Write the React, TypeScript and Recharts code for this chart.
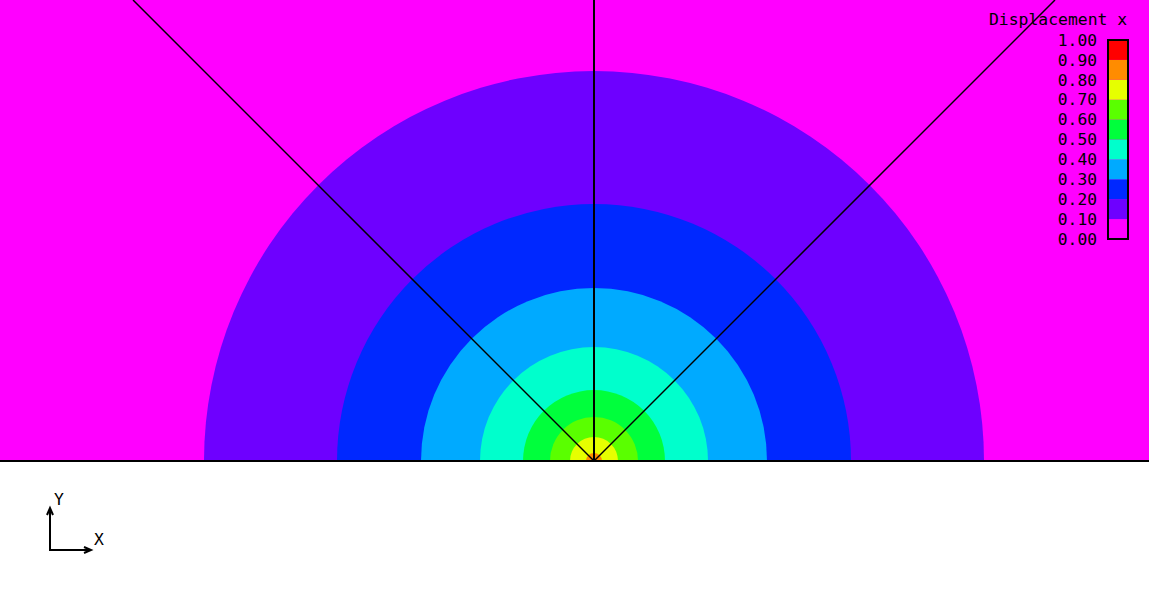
import React from 'react';
import {
  ComposedChart, XAxis, YAxis, ReferenceArea, ReferenceLine,
  PieChart, Pie, Cell, BarChart, Bar,
} from 'recharts';

// ---- data ----
// colours of the displacement bands: [0.0-0.1], [0.1-0.2], ... [0.9-1.0]
const bandColors = ['#ff00ff', '#6e00ff', '#0028ff', '#00aaff', '#00ffcc', '#00ff3c', '#5aff00', '#e6ff00', '#ff8c00', '#ff0000'];
// contour levels and the radius (model units) at which each is reached
const contourLevels = [0.1, 0.2, 0.3, 0.4, 0.5, 0.6, 0.7, 0.8, 0.9];
const contourRadius = [3.90, 2.57, 1.73, 1.14, 0.71, 0.44, 0.24, 0.08, 0.025];
// legend tick values
const legendTicks = [0, 0.1, 0.2, 0.3, 0.4, 0.5, 0.6, 0.7, 0.8, 0.9, 1.0];
// ray end points (model units), rays start at the origin
const rayEnds = [
  { x: -4.61, y: 4.61 },
  { x: 0, y: 4.61 },
  { x: 4.61, y: 4.61 },
];
// model extent
const xDomain = [-5.94, 5.55];
const yDomain = [-1.39, 4.61];

const W = 1149;
const H = 600;
const FONT = '"DejaVu Sans Mono", "Liberation Mono", monospace';

const pxPerX = W / (xDomain[1] - xDomain[0]);
const cxPx = (0 - xDomain[0]) * pxPerX;
const cyPx = (yDomain[1] - 0) / (yDomain[1] - yDomain[0]) * H;

const legendRow: Record<string, number | string> = { name: 'scale' };
bandColors.forEach((_, i) => { legendRow['b' + i] = 0.1; });
const legendData = [legendRow];

export default function App() {
  const layer: React.CSSProperties = { position: 'absolute', left: 0, top: 0 };
  return (
    <div style={{ position: 'absolute', left: 0, top: 0, width: W, height: H, background: '#fff', overflow: 'hidden' }}>
      {/* background band 0.0-0.1 */}
      <div style={layer}>
        <ComposedChart width={W} height={H} data={[]} margin={{ top: 0, right: 0, bottom: 0, left: 0 }}>
          <XAxis type="number" dataKey="x" domain={xDomain} hide allowDataOverflow />
          <YAxis type="number" dataKey="y" domain={yDomain} hide allowDataOverflow />
          <ReferenceArea x1={xDomain[0]} x2={xDomain[1]} y1={0} y2={yDomain[1]} fill={bandColors[0]} fillOpacity={1} stroke="none" ifOverflow="visible" />
        </ComposedChart>
      </div>
      {/* contour bands */}
      <div style={layer}>
        <PieChart width={W} height={H} margin={{ top: 0, right: 0, bottom: 0, left: 0 }}>
          {contourLevels.map((lvl, i) => (
            <Pie
              key={lvl}
              data={[{ name: String(lvl), value: 1 }]}
              dataKey="value"
              cx={cxPx}
              cy={cyPx}
              startAngle={0}
              endAngle={180}
              innerRadius={0}
              outerRadius={contourRadius[i] * pxPerX}
              stroke="none"
              isAnimationActive={false}
            >
              <Cell fill={bandColors[i + 1]} />
            </Pie>
          ))}
        </PieChart>
      </div>
      {/* rays and base line */}
      <div style={layer}>
        <ComposedChart width={W} height={H} data={[]} margin={{ top: 0, right: 0, bottom: 0, left: 0 }}>
          <XAxis type="number" dataKey="x" domain={xDomain} hide allowDataOverflow />
          <YAxis type="number" dataKey="y" domain={yDomain} hide allowDataOverflow />
          {rayEnds.map((p, i) => (
            <ReferenceLine
              key={i}
              segment={[{ x: 0, y: 0 }, p]}
              stroke="#000"
              strokeWidth={p.x === 0 ? 2 : 1.5}
              ifOverflow="visible"
            />
          ))}
          <ReferenceLine y={0} stroke="#000" strokeWidth={2} ifOverflow="visible" />
        </ComposedChart>
      </div>
      {/* legend title */}
      <div style={{ position: 'absolute', left: 989, top: 10, fontFamily: FONT, fontSize: 16.4, lineHeight: '20px', color: '#000', whiteSpace: 'pre' }}>
        Displacement x
      </div>
      {/* legend colour bar */}
      <div style={{ position: 'absolute', left: 1040, top: 30 }}>
        <BarChart width={88} height={220} data={legendData} barCategoryGap={0} margin={{ top: 10, right: 0, bottom: 11, left: 0 }}>
          <XAxis dataKey="name" hide />
          <YAxis
            type="number"
            domain={[0, 1]}
            ticks={legendTicks}
            interval={0}
            width={68}
            axisLine={false}
            tickLine={false}
            tickSize={0}
            tickMargin={11}
            tickFormatter={(v: number) => v.toFixed(2)}
            tick={{ fill: '#000', fontFamily: FONT, fontSize: 16.3 }}
          />
          {bandColors.map((c, i) => (
            <Bar key={i} dataKey={'b' + i} stackId="s" fill={c} stroke="none" isAnimationActive={false} />
          ))}
        </BarChart>
      </div>
      {/* legend frame */}
      <div style={{ position: 'absolute', left: 1107, top: 39, width: 22, height: 201, border: '2px solid #000', boxSizing: 'border-box' }} />
      {/* axis triad */}
      <svg width={W} height={H} style={{ ...layer, pointerEvents: 'none' }}>
        <g stroke="#000" strokeWidth={2} fill="none">
          <line x1={50} y1={550} x2={50} y2={509} />
          <polyline points="47,515 50,508 53,515" />
          <line x1={49} y1={550} x2={90} y2={550} />
          <polyline points="84,547 91,550 84,553" />
        </g>
        <text x={59} y={505} textAnchor="middle" fontFamily={FONT} fontSize={16.4} fill="#000">Y</text>
        <text x={99} y={545} textAnchor="middle" fontFamily={FONT} fontSize={16.4} fill="#000">X</text>
      </svg>
    </div>
  );
}
